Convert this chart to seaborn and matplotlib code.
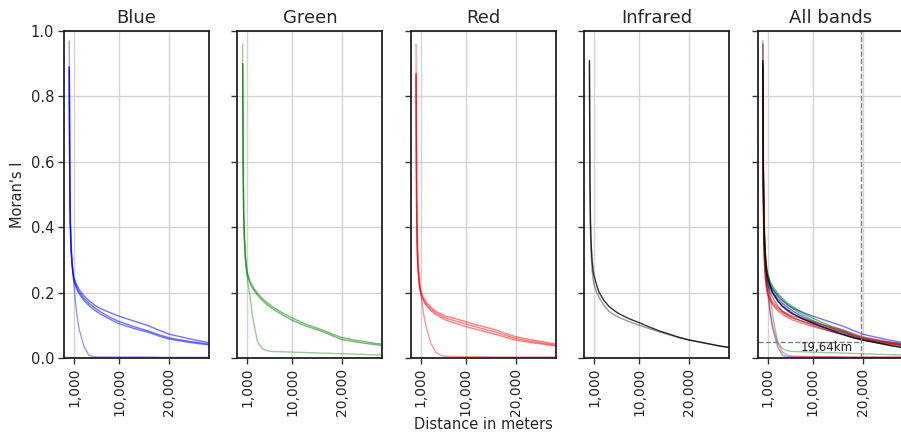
import matplotlib
matplotlib.use("Agg")

import matplotlib.pyplot as plt
import seaborn as sns

sns.set_style("whitegrid")
plt.rcParams['font.family'] = ['DejaVu Sans']

# lag distances (m)
DIST = [50, 150, 250, 400, 600, 800, 1000, 1500, 2000, 3000, 4000, 5000,
        6000, 8000, 10000, 12000, 14000, 16000, 18000, 20000, 22000,
        24000, 26000, 28000]

# Moran's I per band
BLUE_1 = [0.89, 0.55, 0.42, 0.34, 0.29, 0.265, 0.245, 0.225, 0.21, 0.19, 0.175, 0.163,
          0.153, 0.14, 0.128, 0.118, 0.108, 0.098, 0.085, 0.073, 0.066, 0.059, 0.053, 0.047]
BLUE_2 = [0.89, 0.55, 0.42, 0.34, 0.29, 0.26, 0.24, 0.218, 0.203, 0.182, 0.167, 0.155,
          0.144, 0.126, 0.112, 0.101, 0.091, 0.082, 0.071, 0.062, 0.056, 0.051, 0.047, 0.043]
BLUE_3 = [0.88, 0.54, 0.41, 0.335, 0.285, 0.255, 0.235, 0.212, 0.197, 0.176, 0.16, 0.148,
          0.137, 0.12, 0.105, 0.095, 0.086, 0.078, 0.067, 0.058, 0.053, 0.048, 0.044, 0.040]
BLUE_4 = [0.97, 0.62, 0.46, 0.36, 0.30, 0.26, 0.22, 0.14, 0.09, 0.035, 0.008, 0.004,
          0.003, 0.003, 0.003, 0.003, 0.003, 0.003, 0.002, 0.002, 0.002, 0.002, 0.002, 0.002]

GREEN_1 = [0.90, 0.58, 0.45, 0.37, 0.31, 0.28, 0.26, 0.235, 0.22, 0.198, 0.182, 0.168,
           0.157, 0.138, 0.122, 0.108, 0.096, 0.086, 0.073, 0.062, 0.056, 0.051, 0.046, 0.042]
GREEN_2 = [0.90, 0.57, 0.44, 0.36, 0.305, 0.275, 0.255, 0.23, 0.214, 0.192, 0.176, 0.162,
           0.151, 0.132, 0.115, 0.102, 0.091, 0.081, 0.068, 0.056, 0.051, 0.046, 0.042, 0.038]
GREEN_3 = [0.96, 0.62, 0.47, 0.38, 0.31, 0.27, 0.24, 0.19, 0.13, 0.05, 0.028, 0.022,
           0.02, 0.019, 0.018, 0.017, 0.016, 0.015, 0.014, 0.013, 0.012, 0.011, 0.010, 0.009]

RED_1 = [0.87, 0.50, 0.36, 0.29, 0.245, 0.22, 0.205, 0.185, 0.172, 0.155, 0.143, 0.135,
         0.128, 0.12, 0.111, 0.102, 0.094, 0.086, 0.075, 0.065, 0.059, 0.053, 0.048, 0.043]
RED_2 = [0.87, 0.50, 0.355, 0.285, 0.24, 0.215, 0.2, 0.18, 0.167, 0.15, 0.138, 0.129,
         0.122, 0.113, 0.104, 0.095, 0.087, 0.079, 0.069, 0.06, 0.054, 0.049, 0.044, 0.039]
RED_3 = [0.86, 0.49, 0.35, 0.28, 0.235, 0.21, 0.195, 0.175, 0.162, 0.145, 0.133, 0.124,
         0.116, 0.106, 0.096, 0.088, 0.08, 0.072, 0.063, 0.055, 0.05, 0.045, 0.041, 0.037]
RED_4 = [0.96, 0.58, 0.42, 0.33, 0.27, 0.23, 0.20, 0.14, 0.10, 0.045, 0.018, 0.008,
         0.005, 0.005, 0.004, 0.004, 0.004, 0.003, 0.003, 0.003, 0.003, 0.003, 0.003, 0.003]

IR_1 = [0.91, 0.55, 0.42, 0.345, 0.295, 0.265, 0.25, 0.222, 0.2, 0.175, 0.157, 0.145,
        0.135, 0.12, 0.108, 0.095, 0.083, 0.073, 0.063, 0.055, 0.049, 0.043, 0.037, 0.032]
IR_2 = [0.90, 0.52, 0.39, 0.31, 0.265, 0.238, 0.223, 0.2, 0.185, 0.16, 0.142, 0.132,
        0.124, 0.111, 0.100, 0.09, 0.08, 0.071, 0.062, 0.055, 0.049, 0.043, 0.037, 0.032]

CUTOFF_DIST = 19640
CUTOFF_I = 0.05
CUTOFF_LABEL = "19,64km"

TITLES = ["Blue", "Green", "Red", "Infrared", "All bands"]
XTICKS = [1000, 10000, 20000]
XTICK_LABELS = ["1,000", "10,000", "20,000"]

# (values, colour, alpha)
BANDS = [
    [(BLUE_1, "blue", 0.55), (BLUE_2, "blue", 0.55), (BLUE_3, "blue", 0.55),
     (BLUE_4, "blue", 0.4)],
    [(GREEN_1, "green", 0.55), (GREEN_2, "green", 0.55), (GREEN_3, "green", 0.4)],
    [(RED_1, "red", 0.5), (RED_2, "red", 0.5), (RED_3, "red", 0.5),
     (RED_4, "red", 0.4)],
    [(IR_2, "black", 0.4), (IR_1, "black", 0.8)],
]

fig = plt.figure(figsize=(9.01, 4.34), dpi=100)

W, H = 901, 434
axes = []
for i in range(5):
    left = 64 + i * 173.4
    rect = [left / W, 1 - 358 / H, 145 / W, 327 / H]
    ax = fig.add_axes(rect, sharey=axes[0] if axes else None)
    axes.append(ax)

for i, ax in enumerate(axes):
    if i < 4:
        lines = BANDS[i]
    else:
        lines = [ln for band in BANDS for ln in band]
    for vals, col, a in lines:
        sns.lineplot(x=DIST, y=vals, color=col, alpha=a, linewidth=1.0, ax=ax)

    ax.set_xlim(-1000, 28000)
    ax.set_ylim(0, 1.0)
    ax.set_xticks(XTICKS)
    ax.set_xticklabels(XTICK_LABELS, rotation=90, fontsize=10)
    ax.set_yticks([0.0, 0.2, 0.4, 0.6, 0.8, 1.0])
    ax.tick_params(axis='both', which='major', length=4, width=1,
                   color='#333333', bottom=True, left=True, pad=3)
    ax.grid(True, color='#d4d4d4', linewidth=1)
    for sp in ax.spines.values():
        sp.set_color('#222222')
        sp.set_linewidth(1.3)
    ax.set_title(TITLES[i], fontsize=13)
    if i == 0:
        ax.set_yticklabels(["0.0", "0.2", "0.4", "0.6", "0.8", "1.0"], fontsize=10.5)
        ax.set_ylabel("Moran's I", fontsize=10.5)
    else:
        ax.tick_params(axis='y', labelleft=False)
        ax.set_ylabel("")

axes[2].set_xlabel("Distance in meters", fontsize=10.5, labelpad=1)

# cut-off annotation on the combined panel
ax = axes[4]
ax.axvline(CUTOFF_DIST, color='grey', linestyle='--', linewidth=1)
ax.plot([-1000, CUTOFF_DIST], [CUTOFF_I, CUTOFF_I], color='grey',
        linestyle='--', linewidth=1)
ax.text(CUTOFF_DIST - 1700, CUTOFF_I - 0.017, CUTOFF_LABEL, ha='right',
        va='center', fontsize=8.5, color='#222222')

plt.savefig("out.png", dpi=100)
plt.close()
